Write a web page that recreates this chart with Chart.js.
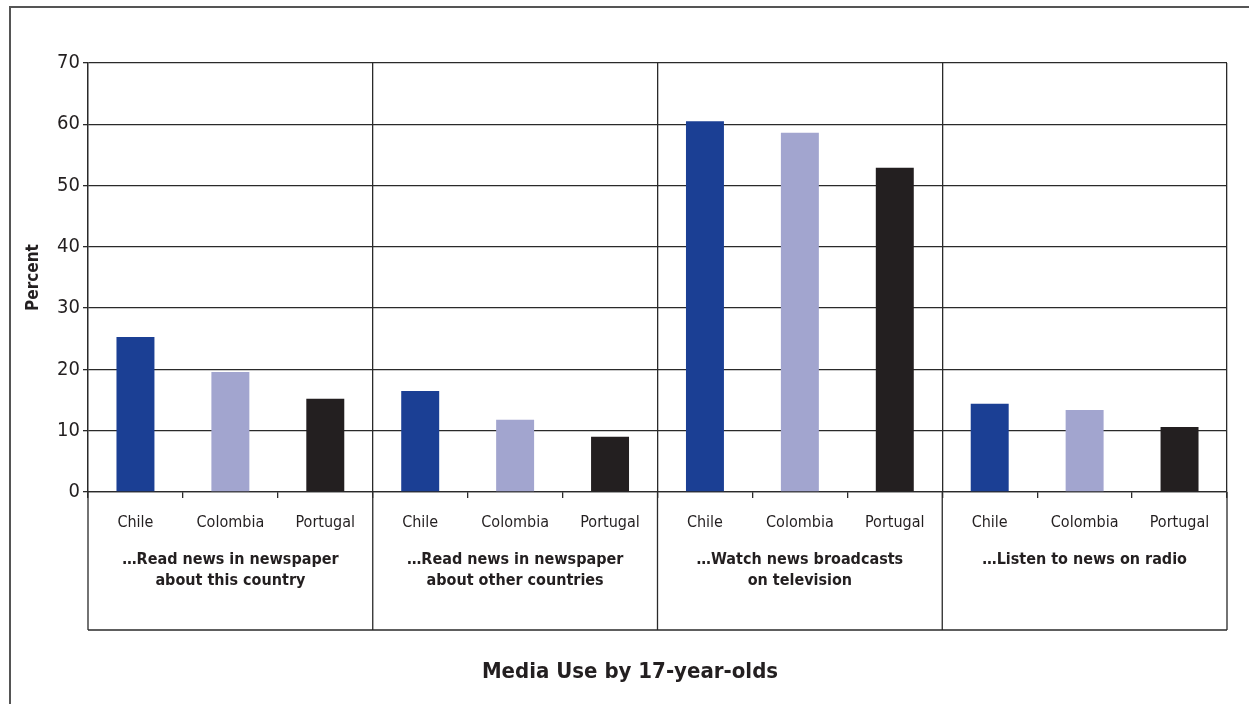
<!DOCTYPE html>
<html>
<head>
<meta charset="utf-8">
<script src="https://cdn.jsdelivr.net/npm/chart.js@4.4.1/dist/chart.umd.min.js"></script>
<style>
  html, body { margin: 0; padding: 0; background: #fff; overflow: hidden; }
  #frame {
    position: absolute; left: 9px; top: 6px; width: 1400px; height: 800px;
    border-left: 2px solid #555; border-top: 2px solid #555;
  }
  #wrap { position: absolute; left: 0; top: 0; width: 1249px; height: 704px; }
</style>
</head>
<body>
<div id="frame"></div>
<div id="wrap"><canvas id="chart" width="1249" height="704"></canvas></div>
<script>
const countries = ['Chile', 'Colombia', 'Portugal'];
const groups = [
    ['\u2026Read news in newspaper', 'about this country'],
    ['\u2026Read news in newspaper', 'about other countries'],
    ['\u2026Watch news broadcasts', 'on television'],
    ['\u2026Listen to news on radio']
];
const chile = [25.3, 16.5, 60.5, 14.4];
const colombia = [19.6, 11.8, 58.6, 13.4];
const portugal = [15.2, 9.0, 52.9, 10.6];
const countryColors = ['#1b3f94', '#a2a5cf', '#231f20'];
const yTicks = [0, 10, 20, 30, 40, 50, 60, 70];
const chartTitle = 'Media Use by 17-year-olds';

const FONT = "'Liberation Sans Narrow', 'Arial Narrow', 'DejaVu Sans Condensed', sans-serif";
const INK = '#231f20';
const LINE = '#2a2a2a';

// one bar per country per group, laid out left to right
const labels = [];
const values = [];
const colors = [];
const series = [chile, colombia, portugal];
groups.forEach((g, gi) => {
    countries.forEach((c, ci) => {
        labels.push(c);
        values.push(series[ci][gi]);
        colors.push(countryColors[ci]);
    });
});

const boxBottom = 630;

const groupFrame = {
    id: 'groupFrame',
    afterDraw(chart) {
        const { ctx, chartArea } = chart;
        const x = chart.scales.x;
        const step = x.getPixelForTick(1) - x.getPixelForTick(0);
        ctx.save();
        ctx.strokeStyle = LINE;
        ctx.lineWidth = 1.3;
        ctx.beginPath();
        for (let i = 0; i <= labels.length; i += 3) {
            const px = i < labels.length ? x.getPixelForTick(i) - step / 2 : chartArea.right;
            ctx.moveTo(px, chartArea.bottom);
            ctx.lineTo(px, boxBottom);
        }
        ctx.moveTo(chartArea.left, boxBottom);
        ctx.lineTo(chartArea.right, boxBottom);
        ctx.stroke();

        ctx.fillStyle = INK;
        ctx.font = 'bold 16px ' + FONT;
        ctx.textAlign = 'center';
        ctx.textBaseline = 'middle';
        groups.forEach((g, gi) => {
            const cx = x.getPixelForTick(gi * 3 + 1);
            g.forEach((line, li) => ctx.fillText(line, cx, 560 + li * 21));
        });

        // main title sits a bit left of the plot centre, as in the source figure
        ctx.font = 'bold 22px ' + FONT;
        ctx.fillText(chartTitle, 630, 672);
        ctx.restore();
    }
};

new Chart(document.getElementById('chart'), {
    type: 'bar',
    data: {
        labels: labels,
        datasets: [{
            data: values,
            backgroundColor: colors,
            borderWidth: 0,
            barPercentage: 0.4,
            categoryPercentage: 1.0
        }]
    },
    options: {
        responsive: false,
        animation: false,
        layout: { padding: { top: 63, right: 22, bottom: 57, left: 0 } },
        plugins: {
            legend: { display: false },
            tooltip: { enabled: false }
        },
        scales: {
            x: {
                offset: true,
                grid: {
                    offset: true,
                    lineWidth: 1.3,
                    color: (c) => (c.index === undefined || c.index % 3 === 0) ? LINE : 'rgba(0,0,0,0)',
                    tickColor: LINE,
                    tickLength: 6
                },
                border: { color: LINE, width: 1.3 },
                ticks: {
                    color: INK,
                    font: { family: FONT, size: 16 },
                    padding: 15,
                    maxRotation: 0,
                    autoSkip: false
                },
                afterFit(scale) { scale.height = 155; }
            },
            y: {
                min: 0,
                max: 70,
                afterBuildTicks(scale) { scale.ticks = yTicks.map(v => ({ value: v })); },
                grid: { color: LINE, lineWidth: 1.3, tickLength: 5 },
                border: { color: LINE, width: 1.3 },
                ticks: {
                    color: INK,
                    font: { family: FONT, size: 20 },
                    padding: 3
                },
                title: {
                    display: true,
                    text: 'Percent',
                    color: INK,
                    font: { family: FONT, size: 17, weight: 'bold' },
                    padding: { top: 23, bottom: 0 }
                },
                afterFit(scale) { scale.width = 88; }
            }
        }
    },
    plugins: [groupFrame]
});
</script>
</body>
</html>
